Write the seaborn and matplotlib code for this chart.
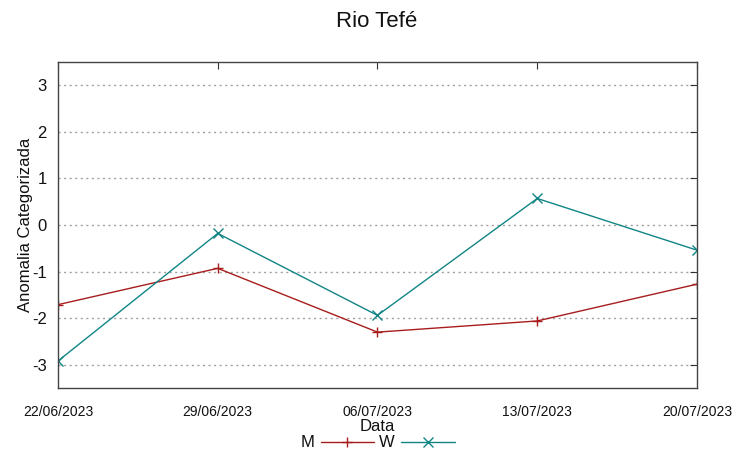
import pandas as pd
import matplotlib
matplotlib.use('Agg')
import matplotlib.pyplot as plt
import matplotlib.dates as mdates
import seaborn as sns

# Weekly dates and categorized anomaly values
dates = ['2023-06-22', '2023-06-29', '2023-07-06', '2023-07-13', '2023-07-20']
m_values = [-1.71, -0.93, -2.30, -2.06, -1.27]
w_values = [-2.92, -0.18, -1.94, 0.57, -0.54]
y_ticks = [-3, -2, -1, 0, 1, 2, 3]

df = pd.DataFrame({
    'Data': pd.to_datetime(dates).tolist() * 2,
    'Anomalia': m_values + w_values,
    'serie': ['M'] * len(dates) + ['W'] * len(dates),
})

sns.set_style('white')
plt.rcParams['font.family'] = ['Liberation Sans', 'DejaVu Sans']
plt.rcParams['axes.unicode_minus'] = False
plt.rcParams['text.color'] = '#111111'
plt.rcParams['axes.labelcolor'] = '#111111'
plt.rcParams['xtick.color'] = '#111111'
plt.rcParams['ytick.color'] = '#111111'

fig = plt.figure(figsize=(7.53, 4.58), dpi=100)
ax = fig.add_axes([0.077, 0.1528, 0.8486, 0.7118])

palette = {'M': '#a81c1c', 'W': '#118585'}
sns.lineplot(data=df, x='Data', y='Anomalia', hue='serie', style='serie',
             markers={'M': '+', 'W': 'x'}, dashes=False, palette=palette,
             linewidth=1, markersize=6.5, ax=ax)
# seaborn paints marker edges white; give them the line colour
for line in ax.lines:
    line.set_markeredgecolor(line.get_color())
    line.set_markeredgewidth(1)

ax.set_ylim(-3.5, 3.5)
ax.set_xlim(pd.Timestamp(dates[0]), pd.Timestamp(dates[-1]))
ax.set_yticks(y_ticks)
ax.set_xticks(pd.to_datetime(dates))
ax.xaxis.set_major_formatter(mdates.DateFormatter('%d/%m/%Y'))
ax.yaxis.grid(True, linestyle=(0, (1.5, 2.5)), color='#a0a0a0', linewidth=1)
ax.xaxis.grid(False)

ax.tick_params(axis='both', direction='in', length=5, color='#333333',
               top=True, right=True)
ax.tick_params(axis='y', labelsize=12, pad=8)
ax.tick_params(axis='x', labelsize=10, pad=12)
for s in ax.spines.values():
    s.set_color('#444444')
    s.set_linewidth(1)

ax.set_xlabel('Data', fontsize=12, labelpad=0)
ax.set_ylabel('Anomalia Categorizada', fontsize=12, labelpad=-1)
fig.suptitle('Rio Tefé', fontsize=16, y=0.975)

leg = ax.legend(loc='upper center', bbox_to_anchor=(0.5, -0.125), ncol=2,
                frameon=False, markerfirst=False, fontsize=12,
                handlelength=3.2, handletextpad=0.4, columnspacing=0.3,
                borderaxespad=0)
for h in leg.legend_handles:
    h.set_markeredgecolor(h.get_color())
    h.set_markeredgewidth(1)

fig.savefig('out.png', dpi=100)
